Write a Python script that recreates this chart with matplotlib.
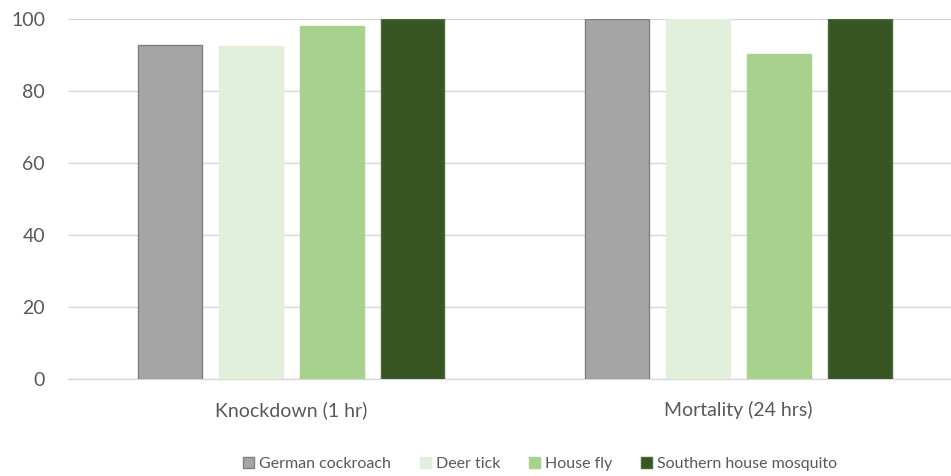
import numpy as np
import matplotlib.pyplot as plt
from matplotlib.patches import Patch

plt.rcParams['font.family'] = ['Lato', 'DejaVu Sans']

categories = ['Knockdown (1 hr)', 'Mortality (24 hrs)']
species = ['German cockroach', 'Deer tick', 'House fly', 'Southern house mosquito']
values = {
    'German cockroach':        [92.8, 100.0],
    'Deer tick':               [92.5, 99.9],
    'House fly':               [98.1, 90.4],
    'Southern house mosquito': [100.0, 100.0],
}
y_ticks = [0, 20, 40, 60, 80, 100]

fills = ['#A5A5A5', '#E2EFDA', '#A9D18E', '#375623']
edges = ['#7F7F7F', '#E2EFDA', '#A9D18E', '#4A6A37']
TXT = '#595959'

fig = plt.figure(figsize=(9.51, 4.76), dpi=100)
ax = fig.add_axes([68 / 951, 1 - 379 / 476, 1 - 68 / 951, (379 - 19) / 476])

x = np.arange(len(categories))
step = 0.181
w = 0.143
for i, sp in enumerate(species):
    ax.bar(x + (i - 1.5) * step, values[sp], w, color=fills[i],
           edgecolor=edges[i], linewidth=1.0, zorder=3)

ax.set_xlim(-0.499, 1.476)
ax.set_ylim(0, 100)
ax.set_yticks(y_ticks)
ax.yaxis.grid(True, color='#D9D9D9', linewidth=1.0, zorder=0)
ax.set_xticks(x)
ax.set_xticklabels(categories)
ax.tick_params(axis='both', length=0, colors=TXT, labelsize=14)
ax.tick_params(axis='y', pad=16.5)
ax.tick_params(axis='x', pad=16)
for s in ['left', 'right', 'top']:
    ax.spines[s].set_visible(False)
ax.spines['bottom'].set_color('#D9D9D9')
ax.spines['bottom'].set_linewidth(1.0)

handles = [Patch(facecolor=fills[i], edgecolor=edges[i], label=sp)
           for i, sp in enumerate(species)]
fig.legend(handles=handles, loc='center', bbox_to_anchor=(540 / 951, 1 - 464 / 476),
           ncol=4, frameon=False, fontsize=11.5, labelcolor=TXT,
           handlelength=0.7, handleheight=0.7, handletextpad=0.3,
           columnspacing=1.8)

plt.savefig('out.png', dpi=100, facecolor='white')
